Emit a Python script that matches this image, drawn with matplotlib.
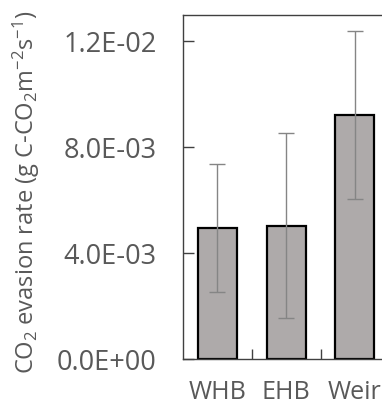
import matplotlib
matplotlib.use("Agg")
import matplotlib.pyplot as plt
import numpy as np

# data
sites = ["WHB", "EHB", "Weir", ""]
rate = [0.00495, 0.00504, 0.00921, 0.0]
err = [0.00242, 0.00350, 0.00317, 0.0]
yticks = [0.0, 0.004, 0.008, 0.012]
ylabels = ["0.0E+00", "4.0E-03", "8.0E-03", "1.2E-02"]

plt.rcParams['font.family'] = ['Open Sans', 'DejaVu Sans']
plt.rcParams['mathtext.fontset'] = 'custom'
plt.rcParams['mathtext.rm'] = 'Open Sans'
plt.rcParams['mathtext.it'] = 'Open Sans:italic'
txt = "#595959"

fig = plt.figure(figsize=(3.82, 4.05), dpi=100)
W, H = 382, 405
# axes spans 4 categories, the right part runs past the figure edge
ax = fig.add_axes([183 / W, 46 / H, 275 / W, 344 / H])

x = np.arange(len(sites))
ax.bar(x[:3], rate[:3], width=0.57, color="#aeaaaa", edgecolor="black",
       linewidth=1.6, zorder=2)
ax.errorbar(x[:3], rate[:3], yerr=err[:3], fmt="none", ecolor="#858585",
            elinewidth=1.0, capsize=6, capthick=1.0, zorder=3)

ax.set_xlim(-0.5, 3.5)
ax.set_ylim(0, 0.013)
ax.set_yticks(yticks)
ax.set_yticklabels(ylabels)
ax.set_xticks(x[:3])
ax.set_xticklabels(sites[:3])
ax.set_xticks([0.5, 1.5, 2.5], minor=True)

ax.tick_params(axis="y", direction="in", length=8, width=1, color="#404040",
               labelsize=19.5, labelcolor=txt, pad=19)
ax.tick_params(axis="x", which="major", length=0, labelsize=18,
               labelcolor=txt, pad=15)
ax.tick_params(axis="x", which="minor", direction="in", length=7, width=1,
               color="#404040")

for s in ax.spines.values():
    s.set_color("#404040")
    s.set_linewidth(1.0)

fig.text(26 / W, 1 - 192 / H,
         "CO$_2$ evasion rate (g C-CO$_2$m$^{-2}$s$^{-1}$)",
         rotation=90, ha="center", va="center", fontsize=17, color=txt)

fig.savefig("out.png", dpi=100)
